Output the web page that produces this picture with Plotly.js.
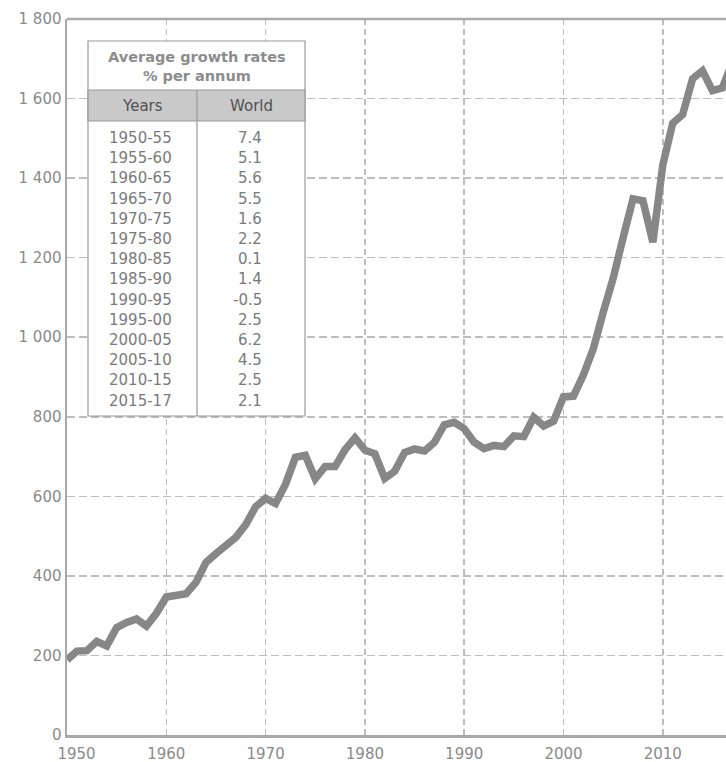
<!DOCTYPE html>
<html><head><meta charset="utf-8">
<script src="https://cdn.plot.ly/plotly-3.0.1.min.js"></script>
<style>html,body{margin:0;padding:0;background:#fff}#chart{width:726px;height:762px}</style>
</head><body><div id="chart"></div>
<script>
const years = [1950,1951,1952,1953,1954,1955,1956,1957,1958,1959,
  1960,1961,1962,1963,1964,1965,1966,1967,1968,1969,
  1970,1971,1972,1973,1974,1975,1976,1977,1978,1979,
  1980,1981,1982,1983,1984,1985,1986,1987,1988,1989,
  1990,1991,1992,1993,1994,1995,1996,1997,1998,1999,
  2000,2001,2002,2003,2004,2005,2006,2007,2008,2009,
  2010,2011,2012,2013,2014,2015,2016,2017];
const production = [189,211,212,235,224,270,283,292,274,306,
  347,351,355,384,434,456,475,497,529,574,
  595,582,630,698,703,644,675,675,717,747,
  716,707,645,663,710,719,714,736,780,786,
  770,736,720,728,725,752,750,799,777,789,
  850,852,905,971,1063,1148,1250,1348,1343,1239,
  1433,1538,1560,1650,1670,1620,1627,1691];
const yTickVals = [0,200,400,600,800,1000,1200,1400,1600,1800];
const yTickText = ['0','200','400','600','800','1 000','1 200','1 400','1 600','1 800'];
const xTickVals = [1950,1960,1970,1980,1990,2000,2010];
const xTickText = ['\u00a0\u00a0\u00a0\u00a01950','1960','1970','1980','1990','2000','2010'];
const tableTitle = ['Average growth rates','% per annum'];
const tableHeaders = ['Years','World'];
const tablePeriods = ['1950-55','1955-60','1960-65','1965-70','1970-75','1975-80','1980-85',
  '1985-90','1990-95','1995-00','2000-05','2005-10','2010-15','2015-17'];
const tableRates = ['7.4','5.1','5.6','5.5','1.6','2.2','0.1','1.4','-0.5','2.5','6.2','4.5','2.5','2.1'];

const W = 726, H = 762, L = 67, R = 0, T = 19, B = 27;
const pw = W - L - R, ph = H - T - B;
const px = v => (v - L) / pw;
const py = v => (H - B - v) / ph;
const FONT = 'DejaVu Sans, Arial, sans-serif';

const shapes = [
  {type:'line', xref:'paper', yref:'paper', x0:0, x1:1, y0:1, y1:1, line:{color:'#ababab', width:2.5}, layer:'above'},
  {type:'rect', xref:'paper', yref:'paper', x0:px(88), x1:px(305), y0:py(416), y1:py(41), fillcolor:'#ffffff', line:{color:'#9a9a9a', width:1.2}, layer:'above'},
  {type:'rect', xref:'paper', yref:'paper', x0:px(88), x1:px(305), y0:py(121), y1:py(90), fillcolor:'#c9c9c9', line:{color:'#9a9a9a', width:1.2}, layer:'above'},
  {type:'line', xref:'paper', yref:'paper', x0:px(197), x1:px(197), y0:py(416), y1:py(90), line:{color:'#9a9a9a', width:1.2}, layer:'above'}
];

const annotations = [];
tableTitle.forEach((t, i) => annotations.push({
  xref:'paper', yref:'paper', x:px(196.5), y:py(57 + i*19), text:'<b>'+t+'</b>', showarrow:false,
  xanchor:'center', yanchor:'middle', font:{family:FONT, size:14.5, color:'#8c8c8c'}
}));
tableHeaders.forEach((t, i) => annotations.push({
  xref:'paper', yref:'paper', x:px(i === 0 ? 142.5 : 251), y:py(106), text:t, showarrow:false,
  xanchor:'center', yanchor:'middle', font:{family:FONT, size:15, color:'#505050'}
}));
tablePeriods.forEach((t, i) => {
  annotations.push({xref:'paper', yref:'paper', x:px(107), y:py(138 + i*20.2), text:t, showarrow:false,
    xanchor:'left', yanchor:'middle', font:{family:FONT, size:15, color:'#7a7a7a'}});
  annotations.push({xref:'paper', yref:'paper', x:px(264), y:py(138 + i*20.2), text:tableRates[i], showarrow:false,
    xanchor:'right', yanchor:'middle', font:{family:FONT, size:15, color:'#7a7a7a'}});
});

const trace = {
  x: years, y: production, type:'scatter', mode:'lines',
  line:{color:'#878787', width:7.5}, hoverinfo:'skip'
};

const layout = {
  width: W, height: H,
  margin:{l:L, r:R, t:T, b:B, pad:0},
  paper_bgcolor:'#ffffff', plot_bgcolor:'#ffffff',
  showlegend:false,
  font:{family:FONT, size:15, color:'#8a8a8a'},
  xaxis:{
    range:[1950, 1950 + pw/9.93], tickvals:xTickVals, ticktext:xTickText,
    showgrid:true, gridcolor:'#bdbdbd', gridwidth:1.5, griddash:'6px,4px',
    showline:true, linecolor:'#a8a8a8', linewidth:2.5, zeroline:false, ticks:'',
    ticklabelstandoff:3,
    tickfont:{family:FONT, size:15, color:'#8a8a8a'}, fixedrange:true
  },
  yaxis:{
    range:[0,1800], tickvals:yTickVals, ticktext:yTickText,
    showgrid:true, gridcolor:'#bdbdbd', gridwidth:1.5, griddash:'8px,4px',
    showline:true, linecolor:'#a8a8a8', linewidth:2.5, zeroline:false, ticks:'',
    tickfont:{family:FONT, size:15, color:'#8a8a8a'}, fixedrange:true
  },
  shapes: shapes,
  annotations: annotations
};

Plotly.newPlot('chart', [trace], layout, {displayModeBar:false, staticPlot:true});
</script>
</body></html>
